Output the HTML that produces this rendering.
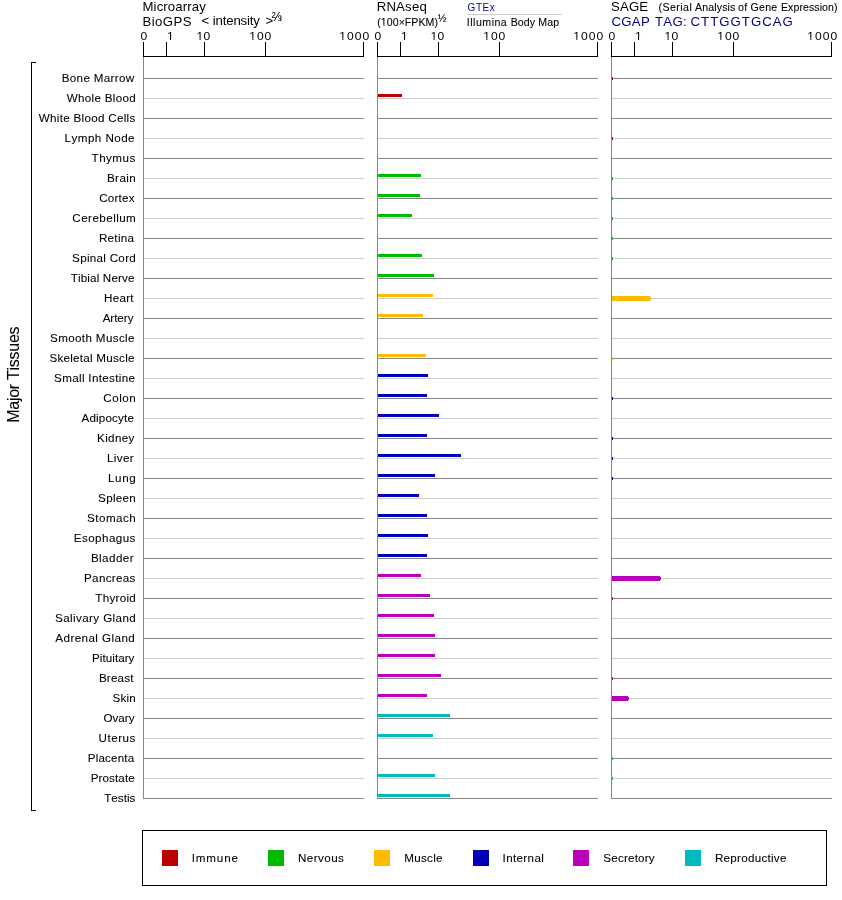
<!DOCTYPE html>
<html><head><meta charset="utf-8"><title>Expression</title>
<style>
html,body{margin:0;padding:0;background:#fff;width:842px;height:900px;overflow:hidden}
svg{display:block;will-change:transform}
text{font-family:"Liberation Sans",Arial,sans-serif;font-kerning:none;stroke:currentColor;stroke-width:0.08px}
text.t{stroke:none}
text.m{stroke-width:0.08px}
</style></head><body>
<svg width="842" height="900" viewBox="0 0 842 900">
<defs><clipPath id="c1" clipPathUnits="userSpaceOnUse"><path clip-rule="evenodd" d="M-30,-44H440V22H-30ZM0.206,-1.122H2.746V1H0.206ZM3.758,-1.122H6.213V1H3.758Z"/></clipPath><clipPath id="c2" clipPathUnits="userSpaceOnUse"><path clip-rule="evenodd" d="M-30,-44H440V22H-30ZM0.206,-1.122H2.746V1H0.206ZM3.758,-1.122H6.213V1H3.758Z"/></clipPath><clipPath id="c3" clipPathUnits="userSpaceOnUse"><path clip-rule="evenodd" d="M-30,-44H440V22H-30ZM0.206,-1.122H2.746V1H0.206ZM3.758,-1.122H6.213V1H3.758Z"/></clipPath><clipPath id="c4" clipPathUnits="userSpaceOnUse"><path clip-rule="evenodd" d="M-30,-44H440V22H-30ZM0.206,-1.122H2.746V1H0.206ZM3.758,-1.122H6.213V1H3.758Z"/></clipPath><clipPath id="c5" clipPathUnits="userSpaceOnUse"><path clip-rule="evenodd" d="M-30,-44H440V22H-30ZM0.206,-1.122H2.746V1H0.206ZM3.758,-1.122H6.213V1H3.758Z"/></clipPath><clipPath id="c6" clipPathUnits="userSpaceOnUse"><path clip-rule="evenodd" d="M-30,-44H440V22H-30ZM0.206,-1.122H2.746V1H0.206ZM3.758,-1.122H6.213V1H3.758Z"/></clipPath><clipPath id="c7" clipPathUnits="userSpaceOnUse"><path clip-rule="evenodd" d="M-30,-44H440V22H-30ZM0.206,-1.122H2.746V1H0.206ZM3.758,-1.122H6.213V1H3.758Z"/></clipPath><clipPath id="c8" clipPathUnits="userSpaceOnUse"><path clip-rule="evenodd" d="M-30,-44H440V22H-30ZM0.206,-1.122H2.746V1H0.206ZM3.758,-1.122H6.213V1H3.758Z"/></clipPath><clipPath id="c9" clipPathUnits="userSpaceOnUse"><path clip-rule="evenodd" d="M-30,-44H440V22H-30ZM0.206,-1.122H2.746V1H0.206ZM3.758,-1.122H6.213V1H3.758Z"/></clipPath><clipPath id="c10" clipPathUnits="userSpaceOnUse"><path clip-rule="evenodd" d="M-30,-44H440V22H-30ZM0.206,-1.122H2.746V1H0.206ZM3.758,-1.122H6.213V1H3.758Z"/></clipPath><clipPath id="c11" clipPathUnits="userSpaceOnUse"><path clip-rule="evenodd" d="M-30,-44H440V22H-30ZM0.206,-1.122H2.746V1H0.206ZM3.758,-1.122H6.213V1H3.758Z"/></clipPath><clipPath id="c12" clipPathUnits="userSpaceOnUse"><path clip-rule="evenodd" d="M-30,-44H440V22H-30ZM0.206,-1.122H2.746V1H0.206ZM3.758,-1.122H6.213V1H3.758Z"/></clipPath><clipPath id="c13" clipPathUnits="userSpaceOnUse"><path clip-rule="evenodd" d="M-30,-40H400V20H-30ZM3.498,-1.047H5.860V1H3.498ZM6.784,-1.047H9.068V1H6.784Z"/></clipPath></defs>
<rect width="842" height="900" fill="#fff"/>
<g shape-rendering="crispEdges">
<rect x="143" y="56" width="221" height="1" fill="#000"/>
<rect x="143" y="42" width="1" height="14" fill="#000"/>
<rect x="166" y="42" width="1" height="14" fill="#000"/>
<rect x="204" y="42" width="1" height="14" fill="#000"/>
<rect x="265" y="42" width="1" height="14" fill="#000"/>
<rect x="363" y="42" width="1" height="14" fill="#000"/>
<rect x="143" y="57" width="1" height="742" fill="#888888"/>
<rect x="377" y="56" width="221" height="1" fill="#000"/>
<rect x="377" y="42" width="1" height="14" fill="#000"/>
<rect x="400" y="42" width="1" height="14" fill="#000"/>
<rect x="438" y="42" width="1" height="14" fill="#000"/>
<rect x="499" y="42" width="1" height="14" fill="#000"/>
<rect x="597" y="42" width="1" height="14" fill="#000"/>
<rect x="377" y="57" width="1" height="742" fill="#888888"/>
<rect x="611" y="56" width="221" height="1" fill="#000"/>
<rect x="611" y="42" width="1" height="14" fill="#000"/>
<rect x="634" y="42" width="1" height="14" fill="#000"/>
<rect x="672" y="42" width="1" height="14" fill="#000"/>
<rect x="733" y="42" width="1" height="14" fill="#000"/>
<rect x="831" y="42" width="1" height="14" fill="#000"/>
<rect x="611" y="57" width="1" height="742" fill="#888888"/>
<rect x="144" y="78" width="220" height="1" fill="#888888"/>
<rect x="378" y="78" width="220" height="1" fill="#888888"/>
<rect x="612" y="78" width="220" height="1" fill="#888888"/>
<rect x="612" y="77" width="1" height="3" fill="#bb0000"/>
<rect x="144" y="98" width="220" height="1" fill="#cccccc"/>
<rect x="378" y="98" width="220" height="1" fill="#cccccc"/>
<rect x="612" y="98" width="220" height="1" fill="#cccccc"/>
<rect x="378" y="94" width="24" height="3" fill="#bb0000"/>
<rect x="144" y="118" width="220" height="1" fill="#888888"/>
<rect x="378" y="118" width="220" height="1" fill="#888888"/>
<rect x="612" y="118" width="220" height="1" fill="#888888"/>
<rect x="144" y="138" width="220" height="1" fill="#cccccc"/>
<rect x="378" y="138" width="220" height="1" fill="#cccccc"/>
<rect x="612" y="138" width="220" height="1" fill="#cccccc"/>
<rect x="612" y="137" width="1" height="3" fill="#bb0000"/>
<rect x="144" y="158" width="220" height="1" fill="#888888"/>
<rect x="378" y="158" width="220" height="1" fill="#888888"/>
<rect x="612" y="158" width="220" height="1" fill="#888888"/>
<rect x="144" y="178" width="220" height="1" fill="#cccccc"/>
<rect x="378" y="178" width="220" height="1" fill="#cccccc"/>
<rect x="612" y="178" width="220" height="1" fill="#cccccc"/>
<rect x="378" y="174" width="43" height="3" fill="#00bb00"/>
<rect x="612" y="177" width="1" height="3" fill="#00bb00"/>
<rect x="144" y="198" width="220" height="1" fill="#888888"/>
<rect x="378" y="198" width="220" height="1" fill="#888888"/>
<rect x="612" y="198" width="220" height="1" fill="#888888"/>
<rect x="378" y="194" width="42" height="3" fill="#00bb00"/>
<rect x="612" y="197" width="1" height="3" fill="#00bb00"/>
<rect x="144" y="218" width="220" height="1" fill="#cccccc"/>
<rect x="378" y="218" width="220" height="1" fill="#cccccc"/>
<rect x="612" y="218" width="220" height="1" fill="#cccccc"/>
<rect x="378" y="214" width="34" height="3" fill="#00bb00"/>
<rect x="612" y="217" width="1" height="3" fill="#00bb00"/>
<rect x="144" y="238" width="220" height="1" fill="#888888"/>
<rect x="378" y="238" width="220" height="1" fill="#888888"/>
<rect x="612" y="238" width="220" height="1" fill="#888888"/>
<rect x="612" y="237" width="1" height="3" fill="#00bb00"/>
<rect x="144" y="258" width="220" height="1" fill="#cccccc"/>
<rect x="378" y="258" width="220" height="1" fill="#cccccc"/>
<rect x="612" y="258" width="220" height="1" fill="#cccccc"/>
<rect x="378" y="254" width="44" height="3" fill="#00bb00"/>
<rect x="612" y="257" width="1" height="3" fill="#00bb00"/>
<rect x="144" y="278" width="220" height="1" fill="#888888"/>
<rect x="378" y="278" width="220" height="1" fill="#888888"/>
<rect x="612" y="278" width="220" height="1" fill="#888888"/>
<rect x="378" y="274" width="56" height="3" fill="#00bb00"/>
<rect x="144" y="298" width="220" height="1" fill="#cccccc"/>
<rect x="378" y="298" width="220" height="1" fill="#cccccc"/>
<rect x="612" y="298" width="220" height="1" fill="#cccccc"/>
<rect x="378" y="294" width="55" height="3" fill="#ffbb00"/>
<rect x="612" y="296" width="38" height="5" fill="#ffbb00"/>
<rect x="650" y="297" width="1" height="3" fill="#ffbb00"/>
<rect x="144" y="318" width="220" height="1" fill="#888888"/>
<rect x="378" y="318" width="220" height="1" fill="#888888"/>
<rect x="612" y="318" width="220" height="1" fill="#888888"/>
<rect x="378" y="314" width="45" height="3" fill="#ffbb00"/>
<rect x="144" y="338" width="220" height="1" fill="#cccccc"/>
<rect x="378" y="338" width="220" height="1" fill="#cccccc"/>
<rect x="612" y="338" width="220" height="1" fill="#cccccc"/>
<rect x="144" y="358" width="220" height="1" fill="#888888"/>
<rect x="378" y="358" width="220" height="1" fill="#888888"/>
<rect x="612" y="358" width="220" height="1" fill="#888888"/>
<rect x="378" y="354" width="48" height="3" fill="#ffbb00"/>
<rect x="612" y="357" width="1" height="3" fill="#ffbb00"/>
<rect x="144" y="378" width="220" height="1" fill="#cccccc"/>
<rect x="378" y="378" width="220" height="1" fill="#cccccc"/>
<rect x="612" y="378" width="220" height="1" fill="#cccccc"/>
<rect x="378" y="374" width="50" height="3" fill="#0000bb"/>
<rect x="144" y="398" width="220" height="1" fill="#888888"/>
<rect x="378" y="398" width="220" height="1" fill="#888888"/>
<rect x="612" y="398" width="220" height="1" fill="#888888"/>
<rect x="378" y="394" width="49" height="3" fill="#0000bb"/>
<rect x="612" y="397" width="1" height="3" fill="#0000bb"/>
<rect x="144" y="418" width="220" height="1" fill="#cccccc"/>
<rect x="378" y="418" width="220" height="1" fill="#cccccc"/>
<rect x="612" y="418" width="220" height="1" fill="#cccccc"/>
<rect x="378" y="414" width="61" height="3" fill="#0000bb"/>
<rect x="144" y="438" width="220" height="1" fill="#888888"/>
<rect x="378" y="438" width="220" height="1" fill="#888888"/>
<rect x="612" y="438" width="220" height="1" fill="#888888"/>
<rect x="378" y="434" width="49" height="3" fill="#0000bb"/>
<rect x="612" y="437" width="1" height="3" fill="#0000bb"/>
<rect x="144" y="458" width="220" height="1" fill="#cccccc"/>
<rect x="378" y="458" width="220" height="1" fill="#cccccc"/>
<rect x="612" y="458" width="220" height="1" fill="#cccccc"/>
<rect x="378" y="454" width="83" height="3" fill="#0000bb"/>
<rect x="612" y="457" width="1" height="3" fill="#0000bb"/>
<rect x="144" y="478" width="220" height="1" fill="#888888"/>
<rect x="378" y="478" width="220" height="1" fill="#888888"/>
<rect x="612" y="478" width="220" height="1" fill="#888888"/>
<rect x="378" y="474" width="57" height="3" fill="#0000bb"/>
<rect x="612" y="477" width="1" height="3" fill="#0000bb"/>
<rect x="144" y="498" width="220" height="1" fill="#cccccc"/>
<rect x="378" y="498" width="220" height="1" fill="#cccccc"/>
<rect x="612" y="498" width="220" height="1" fill="#cccccc"/>
<rect x="378" y="494" width="41" height="3" fill="#0000bb"/>
<rect x="144" y="518" width="220" height="1" fill="#888888"/>
<rect x="378" y="518" width="220" height="1" fill="#888888"/>
<rect x="612" y="518" width="220" height="1" fill="#888888"/>
<rect x="378" y="514" width="49" height="3" fill="#0000bb"/>
<rect x="144" y="538" width="220" height="1" fill="#cccccc"/>
<rect x="378" y="538" width="220" height="1" fill="#cccccc"/>
<rect x="612" y="538" width="220" height="1" fill="#cccccc"/>
<rect x="378" y="534" width="50" height="3" fill="#0000bb"/>
<rect x="144" y="558" width="220" height="1" fill="#888888"/>
<rect x="378" y="558" width="220" height="1" fill="#888888"/>
<rect x="612" y="558" width="220" height="1" fill="#888888"/>
<rect x="378" y="554" width="49" height="3" fill="#0000bb"/>
<rect x="144" y="578" width="220" height="1" fill="#cccccc"/>
<rect x="378" y="578" width="220" height="1" fill="#cccccc"/>
<rect x="612" y="578" width="220" height="1" fill="#cccccc"/>
<rect x="378" y="574" width="43" height="3" fill="#bb00bb"/>
<rect x="612" y="576" width="48" height="5" fill="#bb00bb"/>
<rect x="660" y="577" width="1" height="3" fill="#bb00bb"/>
<rect x="144" y="598" width="220" height="1" fill="#888888"/>
<rect x="378" y="598" width="220" height="1" fill="#888888"/>
<rect x="612" y="598" width="220" height="1" fill="#888888"/>
<rect x="378" y="594" width="52" height="3" fill="#bb00bb"/>
<rect x="612" y="597" width="1" height="3" fill="#bb00bb"/>
<rect x="144" y="618" width="220" height="1" fill="#cccccc"/>
<rect x="378" y="618" width="220" height="1" fill="#cccccc"/>
<rect x="612" y="618" width="220" height="1" fill="#cccccc"/>
<rect x="378" y="614" width="56" height="3" fill="#bb00bb"/>
<rect x="144" y="638" width="220" height="1" fill="#888888"/>
<rect x="378" y="638" width="220" height="1" fill="#888888"/>
<rect x="612" y="638" width="220" height="1" fill="#888888"/>
<rect x="378" y="634" width="57" height="3" fill="#bb00bb"/>
<rect x="144" y="658" width="220" height="1" fill="#cccccc"/>
<rect x="378" y="658" width="220" height="1" fill="#cccccc"/>
<rect x="612" y="658" width="220" height="1" fill="#cccccc"/>
<rect x="378" y="654" width="57" height="3" fill="#bb00bb"/>
<rect x="144" y="678" width="220" height="1" fill="#888888"/>
<rect x="378" y="678" width="220" height="1" fill="#888888"/>
<rect x="612" y="678" width="220" height="1" fill="#888888"/>
<rect x="378" y="674" width="63" height="3" fill="#bb00bb"/>
<rect x="612" y="677" width="1" height="3" fill="#bb00bb"/>
<rect x="144" y="698" width="220" height="1" fill="#cccccc"/>
<rect x="378" y="698" width="220" height="1" fill="#cccccc"/>
<rect x="612" y="698" width="220" height="1" fill="#cccccc"/>
<rect x="378" y="694" width="49" height="3" fill="#bb00bb"/>
<rect x="612" y="696" width="16" height="5" fill="#bb00bb"/>
<rect x="628" y="697" width="1" height="3" fill="#bb00bb"/>
<rect x="144" y="718" width="220" height="1" fill="#888888"/>
<rect x="378" y="718" width="220" height="1" fill="#888888"/>
<rect x="612" y="718" width="220" height="1" fill="#888888"/>
<rect x="378" y="714" width="72" height="3" fill="#00bbbb"/>
<rect x="144" y="738" width="220" height="1" fill="#cccccc"/>
<rect x="378" y="738" width="220" height="1" fill="#cccccc"/>
<rect x="612" y="738" width="220" height="1" fill="#cccccc"/>
<rect x="378" y="734" width="55" height="3" fill="#00bbbb"/>
<rect x="144" y="758" width="220" height="1" fill="#888888"/>
<rect x="378" y="758" width="220" height="1" fill="#888888"/>
<rect x="612" y="758" width="220" height="1" fill="#888888"/>
<rect x="612" y="757" width="1" height="3" fill="#00bbbb"/>
<rect x="144" y="778" width="220" height="1" fill="#cccccc"/>
<rect x="378" y="778" width="220" height="1" fill="#cccccc"/>
<rect x="612" y="778" width="220" height="1" fill="#cccccc"/>
<rect x="378" y="774" width="57" height="3" fill="#00bbbb"/>
<rect x="612" y="777" width="1" height="3" fill="#00bbbb"/>
<rect x="144" y="798" width="220" height="1" fill="#888888"/>
<rect x="378" y="798" width="220" height="1" fill="#888888"/>
<rect x="612" y="798" width="220" height="1" fill="#888888"/>
<rect x="378" y="794" width="72" height="3" fill="#00bbbb"/>
<rect x="31" y="62" width="1" height="749" fill="#000"/>
<rect x="31" y="62" width="5" height="1" fill="#000"/>
<rect x="31" y="810" width="5" height="1" fill="#000"/>
<rect x="467" y="14" width="95" height="1" fill="#cccccc"/>
<rect x="142" y="830" width="685" height="1" fill="#000"/>
<rect x="142" y="885" width="685" height="1" fill="#000"/>
<rect x="142" y="830" width="1" height="56" fill="#000"/>
<rect x="826" y="830" width="1" height="56" fill="#000"/>
<rect x="162" y="850" width="16" height="16" fill="#bb0000"/>
<rect x="268" y="850" width="16" height="16" fill="#00bb00"/>
<rect x="374" y="850" width="16" height="16" fill="#ffbb00"/>
<rect x="473" y="850" width="16" height="16" fill="#0000bb"/>
<rect x="573" y="850" width="16" height="16" fill="#bb00bb"/>
<rect x="685" y="850" width="16" height="16" fill="#00bbbb"/>
</g>
<text transform="translate(140.38,39.6) scale(1.1,1)" font-size="11" class="t">0</text>
<text transform="translate(167.00,39.6) scale(1.1,1)" font-size="11" class="t" clip-path="url(#c1)">1</text>
<text transform="translate(196.53,39.6) scale(1.1,1)" font-size="11" letter-spacing="0.214" class="t" clip-path="url(#c2)">10</text>
<text transform="translate(249.33,39.6) scale(1.1,1)" font-size="11" letter-spacing="0.821" class="t" clip-path="url(#c3)">100</text>
<text transform="translate(339.33,39.6) scale(1.1,1)" font-size="11" letter-spacing="0.902" class="t" clip-path="url(#c4)">1000</text>
<text transform="translate(374.38,39.6) scale(1.1,1)" font-size="11" class="t">0</text>
<text transform="translate(401.00,39.6) scale(1.1,1)" font-size="11" class="t" clip-path="url(#c5)">1</text>
<text transform="translate(430.53,39.6) scale(1.1,1)" font-size="11" letter-spacing="0.214" class="t" clip-path="url(#c6)">10</text>
<text transform="translate(483.33,39.6) scale(1.1,1)" font-size="11" letter-spacing="0.821" class="t" clip-path="url(#c7)">100</text>
<text transform="translate(573.33,39.6) scale(1.1,1)" font-size="11" letter-spacing="0.902" class="t" clip-path="url(#c8)">1000</text>
<text transform="translate(608.38,39.6) scale(1.1,1)" font-size="11" class="t">0</text>
<text transform="translate(635.00,39.6) scale(1.1,1)" font-size="11" class="t" clip-path="url(#c9)">1</text>
<text transform="translate(664.53,39.6) scale(1.1,1)" font-size="11" letter-spacing="0.214" class="t" clip-path="url(#c10)">10</text>
<text transform="translate(717.33,39.6) scale(1.1,1)" font-size="11" letter-spacing="0.821" class="t" clip-path="url(#c11)">100</text>
<text transform="translate(807.33,39.6) scale(1.1,1)" font-size="11" letter-spacing="0.902" class="t" clip-path="url(#c12)">1000</text>
<text transform="translate(61.69,82) scale(1.06,1)" font-size="11" letter-spacing="0.301">Bone Marrow</text>
<text transform="translate(66.80,102) scale(1.06,1)" font-size="11" letter-spacing="0.263">Whole Blood</text>
<text transform="translate(38.70,122) scale(1.06,1)" font-size="11" letter-spacing="0.274">White Blood Cells</text>
<text transform="translate(64.59,142) scale(1.06,1)" font-size="11" letter-spacing="0.405">Lymph Node</text>
<text transform="translate(91.59,162) scale(1.06,1)" font-size="11" letter-spacing="0.419">Thymus</text>
<text transform="translate(106.89,182) scale(1.06,1)" font-size="11" letter-spacing="0.399">Brain</text>
<text transform="translate(99.26,202) scale(1.06,1)" font-size="11" letter-spacing="0.184">Cortex</text>
<text transform="translate(72.36,222) scale(1.06,1)" font-size="11" letter-spacing="0.403">Cerebellum</text>
<text transform="translate(98.89,242) scale(1.06,1)" font-size="11" letter-spacing="0.274">Retina</text>
<text transform="translate(72.12,262) scale(1.06,1)" font-size="11" letter-spacing="0.260">Spinal Cord</text>
<text transform="translate(70.69,282) scale(1.06,1)" font-size="11" letter-spacing="0.144">Tibial Nerve</text>
<text transform="translate(103.99,302) scale(1.06,1)" font-size="11" letter-spacing="0.243">Heart</text>
<text transform="translate(102.63,322) scale(1.06,1)" font-size="11" letter-spacing="-0.047">Artery</text>
<text transform="translate(50.02,342) scale(1.06,1)" font-size="11" letter-spacing="0.330">Smooth Muscle</text>
<text transform="translate(49.42,362) scale(1.06,1)" font-size="11" letter-spacing="0.235">Skeletal Muscle</text>
<text transform="translate(54.12,382) scale(1.06,1)" font-size="11" letter-spacing="0.295">Small Intestine</text>
<text transform="translate(103.36,402) scale(1.06,1)" font-size="11" letter-spacing="0.468">Colon</text>
<text transform="translate(81.53,422) scale(1.06,1)" font-size="11" letter-spacing="0.146">Adipocyte</text>
<text transform="translate(96.99,442) scale(1.06,1)" font-size="11" letter-spacing="0.345">Kidney</text>
<text transform="translate(106.99,462) scale(1.06,1)" font-size="11" letter-spacing="0.325">Liver</text>
<text transform="translate(107.99,482) scale(1.06,1)" font-size="11" letter-spacing="0.588">Lung</text>
<text transform="translate(98.12,502) scale(1.06,1)" font-size="11" letter-spacing="0.260">Spleen</text>
<text transform="translate(87.02,522) scale(1.06,1)" font-size="11" letter-spacing="0.436">Stomach</text>
<text transform="translate(73.69,542) scale(1.06,1)" font-size="11" letter-spacing="0.405">Esophagus</text>
<text transform="translate(90.89,562) scale(1.06,1)" font-size="11" letter-spacing="0.403">Bladder</text>
<text transform="translate(83.99,582) scale(1.06,1)" font-size="11" letter-spacing="0.299">Pancreas</text>
<text transform="translate(95.29,602) scale(1.06,1)" font-size="11" letter-spacing="0.257">Thyroid</text>
<text transform="translate(55.02,622) scale(1.06,1)" font-size="11" letter-spacing="0.360">Salivary Gland</text>
<text transform="translate(55.33,642) scale(1.06,1)" font-size="11" letter-spacing="0.388">Adrenal Gland</text>
<text transform="translate(91.99,662) scale(1.06,1)" font-size="11" letter-spacing="0.042">Pituitary</text>
<text transform="translate(98.89,682) scale(1.06,1)" font-size="11" letter-spacing="0.178">Breast</text>
<text transform="translate(112.42,702) scale(1.06,1)" font-size="11" letter-spacing="0.221">Skin</text>
<text transform="translate(103.40,722) scale(1.06,1)" font-size="11" letter-spacing="-0.005">Ovary</text>
<text transform="translate(98.55,742) scale(1.06,1)" font-size="11" letter-spacing="0.468">Uterus</text>
<text transform="translate(87.79,762) scale(1.06,1)" font-size="11" letter-spacing="0.146">Placenta</text>
<text transform="translate(90.69,782) scale(1.06,1)" font-size="11" letter-spacing="0.088">Prostate</text>
<text transform="translate(104.19,802) scale(1.06,1)" font-size="11" letter-spacing="0.016">Testis</text>
<text transform="translate(191.67,861.7) scale(1.06,1)" font-size="11" letter-spacing="0.788">Immune</text>
<text transform="translate(297.99,861.7) scale(1.06,1)" font-size="11" letter-spacing="0.403">Nervous</text>
<text transform="translate(404.19,861.7) scale(1.06,1)" font-size="11" letter-spacing="0.272">Muscle</text>
<text transform="translate(502.57,861.7) scale(1.06,1)" font-size="11" letter-spacing="0.319">Internal</text>
<text transform="translate(603.32,861.7) scale(1.06,1)" font-size="11" letter-spacing="0.172">Secretory</text>
<text transform="translate(714.89,861.7) scale(1.06,1)" font-size="11" letter-spacing="0.246">Reproductive</text>
<text transform="translate(142.47,10.6) scale(1.1,1)" font-size="12" letter-spacing="0.108" class="t">Microarray</text>
<text transform="translate(142.57,25.5) scale(1.1,1)" font-size="12" letter-spacing="0.370" class="t">BioGPS</text>
<text transform="translate(201.40,24.6) scale(1.1,1)" font-size="12" class="t">&lt;</text>
<text transform="translate(212.77,24.6) scale(1.1,1)" font-size="12" letter-spacing="-0.138" class="t">intensity</text>
<text transform="translate(265.50,24.6) scale(1.1,1)" font-size="12" class="t">&gt;</text>
<text x="271.85" y="20.8" font-size="12">⅔</text>
<text transform="translate(376.67,10.6) scale(1.1,1)" font-size="12" letter-spacing="0.177" class="t">RNAseq</text>
<text transform="translate(377.29,25.5) scale(1.06,1)" font-size="10" letter-spacing="0.035" class="m" clip-path="url(#c13)">(100×FPKM)</text>
<text x="437.67" y="21.75" font-size="10.5">½</text>
<text transform="translate(467.55,10.7)" font-size="10" letter-spacing="0.585" style="fill:#00009a;stroke:none">GTEx</text>
<text transform="translate(466.87,25.5) scale(1.06,1)" font-size="10" letter-spacing="0.452" class="m">Illumina</text>
<text transform="translate(510.68,25.5) scale(1.06,1)" font-size="10" letter-spacing="0.072" class="m">Body</text>
<text transform="translate(538.18,25.5) scale(1.06,1)" font-size="10" letter-spacing="0.186" class="m">Map</text>
<text transform="translate(611.05,10.7) scale(1.1,1)" font-size="12" letter-spacing="0.117" class="t">SAGE</text>
<text transform="translate(658.49,10.7) scale(1.06,1)" font-size="10" letter-spacing="0.414" class="m">(Serial</text>
<text transform="translate(694.93,10.7) scale(1.06,1)" font-size="10" letter-spacing="0.139" class="m">Analysis</text>
<text transform="translate(738.10,10.7) scale(1.06,1)" font-size="10" letter-spacing="0.273" class="m">of</text>
<text transform="translate(750.52,10.7) scale(1.06,1)" font-size="10" letter-spacing="0.243" class="m">Gene</text>
<text transform="translate(780.98,10.7) scale(1.06,1)" font-size="10" letter-spacing="0.062" class="m">Expression)</text>
<text transform="translate(611.38,25.5) scale(1.1,1)" font-size="12" letter-spacing="0.290" style="fill:#000088;stroke:none">CGAP</text>
<text transform="translate(654.95,25.5) scale(1.1,1)" font-size="12" letter-spacing="0.303" style="fill:#000088;stroke:none">TAG:</text>
<text transform="translate(690.58,25.5) scale(1.1,1)" font-size="12" letter-spacing="0.922" style="fill:#000088;stroke:none">CTTGGTGCAG</text>
<text transform="translate(19,422.7) rotate(-90)" font-size="16" letter-spacing="-0.28">Major Tissues</text>
</svg>
</body></html>
